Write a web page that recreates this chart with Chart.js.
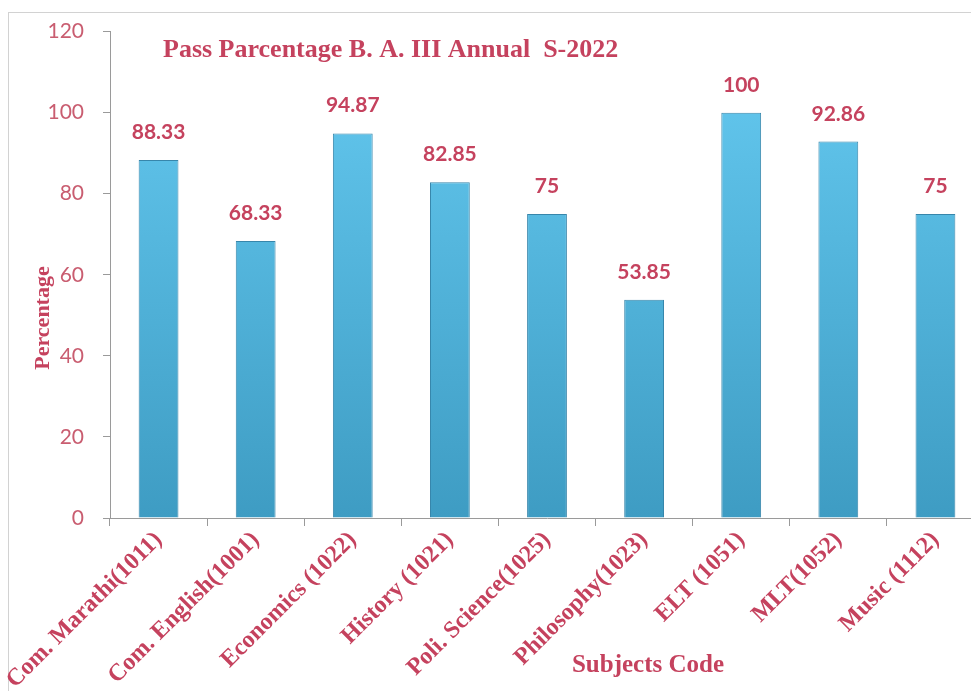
<!DOCTYPE html>
<html>
<head>
<meta charset="utf-8">
<script src="https://cdn.jsdelivr.net/npm/chart.js@4/dist/chart.umd.min.js"></script>
<style>
  html, body { margin: 0; padding: 0; background: #fff; overflow: hidden; }
  #wrap { position: absolute; left: 0; top: 0; width: 990px; height: 691px; }
</style>
</head>
<body>
<div id="wrap"><canvas id="grafico" width="990" height="691"></canvas></div>
<script>
// datos
const materias = ['Com. Marathi(1011)', 'Com. English(1001)', 'Economics (1022)', 'History (1021)',
  'Poli. Science(1025)', 'Philosophy(1023)', 'ELT (1051)', 'MLT(1052)', 'Music (1112)'];
const porcentajes = [88.33, 68.33, 94.87, 82.85, 75, 53.85, 100, 92.86, 75];
const etiquetas = ['88.33', '68.33', '94.87', '82.85', '75', '53.85', '100', '92.86', '75'];
const marcasY = [0, 20, 40, 60, 80, 100, 120];

const rojo = '#c5425e';
const serif = '"Liberation Serif", "Times New Roman", serif';

// marco, titulo, titulos de ejes y valores sobre las barras
const extras = {
  id: 'extras',
  beforeDraw(chart) {
    const ctx = chart.ctx;
    ctx.save();
    ctx.strokeStyle = '#d2d2d2';
    ctx.lineWidth = 1;
    ctx.strokeRect(8.5, 12.5, 1100, 800);
    ctx.restore();
  },
  afterDatasetsDraw(chart) {
    const ctx = chart.ctx;
    ctx.save();
    ctx.fillStyle = rojo;
    ctx.font = 'bold 21px Lato, sans-serif';
    ctx.textAlign = 'center';
    ctx.textBaseline = 'alphabetic';
    chart.getDatasetMeta(0).data.forEach((bar, i) => {
      ctx.fillText(etiquetas[i], bar.x, bar.y - 21);
    });

    ctx.font = 'bold 26px ' + serif;
    ctx.textAlign = 'left';
    ctx.fillText('Pass Parcentage B. A. III Annual  S-2022', 163, 57);

    ctx.font = 'bold 25px ' + serif;
    ctx.textAlign = 'center';
    ctx.fillText('Subjects Code', 648, 672);

    ctx.translate(49, 318);
    ctx.rotate(-Math.PI / 2);
    ctx.font = 'bold 22px ' + serif;
    ctx.fillText('Percentage', 0, 0);
    ctx.restore();
  }
};

const ctx = document.getElementById('grafico');

new Chart(ctx, {
  type: 'bar',
  data: {
    labels: materias,
    datasets: [{
      label: 'Percentage',
      data: porcentajes,
      backgroundColor: (c) => {
        const area = c.chart.chartArea;
        if (!area) return '#4fb4de';
        const g = c.chart.ctx.createLinearGradient(0, area.top, 0, area.bottom);
        g.addColorStop(0, '#66cbf2');
        g.addColorStop(1, '#3e9cc3');
        return g;
      },
      borderColor: '#3786ab',
      borderWidth: 1,
      barPercentage: 0.41,
      categoryPercentage: 1
    }]
  },
  options: {
    responsive: false,
    animation: false,
    layout: { padding: { top: 30, right: 6, left: 0, bottom: 0 } },
    plugins: {
      legend: { display: false },
      tooltip: { enabled: false }
    },
    scales: {
      x: {
        afterFit: (s) => { s.height = 173; },
        grid: { drawOnChartArea: false, drawTicks: true, tickLength: 8, color: '#9a9a9a' },
        border: { color: '#9a9a9a' },
        ticks: {
          maxRotation: 45,
          minRotation: 45,
          autoSkip: false,
          padding: 0,
          color: rojo,
          font: { family: serif, weight: 'bold', size: 24 }
        }
      },
      y: {
        min: 0,
        max: 120,
        afterFit: (s) => { s.width = 110; },
        afterBuildTicks: (s) => { s.ticks = marcasY.map(v => ({ value: v })); },
        grid: { drawOnChartArea: false, drawTicks: true, tickLength: 7, color: '#9a9a9a' },
        border: { color: '#9a9a9a' },
        ticks: {
          padding: 19,
          color: '#c95d70',
          font: { family: 'Lato, sans-serif', size: 21 }
        }
      }
    }
  },
  plugins: [extras]
});
</script>
</body>
</html>
